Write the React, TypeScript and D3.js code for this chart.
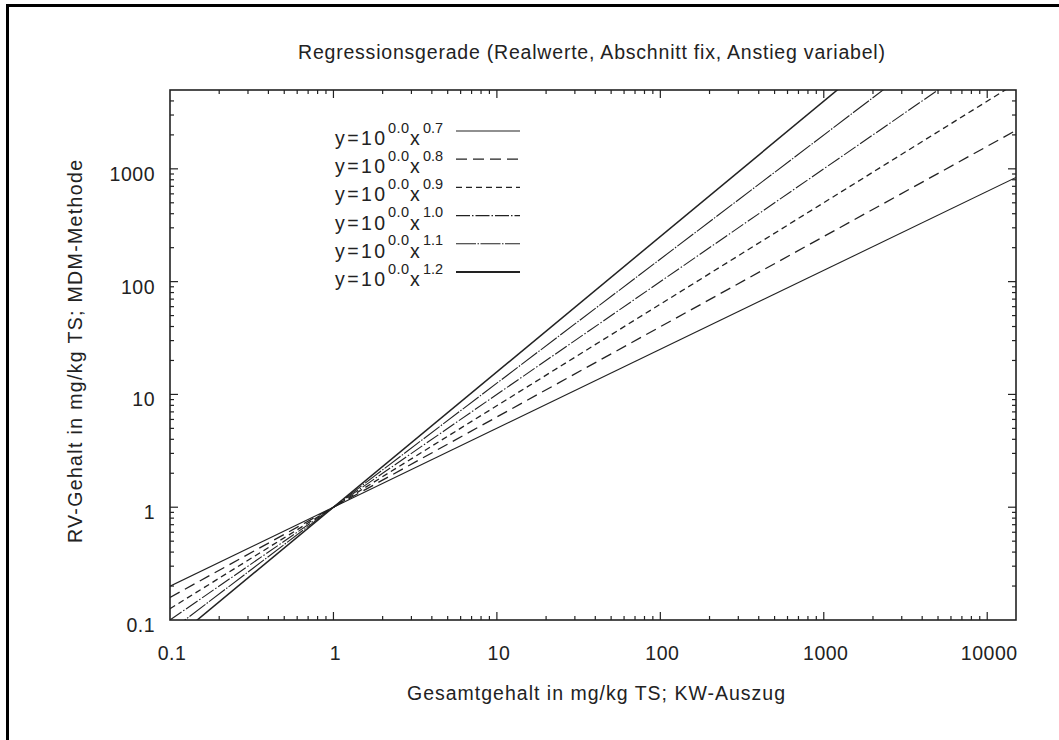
import React from "react";
import * as d3 from "d3";

// Power-law regression lines y = 10^a * x^b drawn on log–log axes
const exponents = [0.7, 0.8, 0.9, 1.0, 1.1, 1.2];
const logIntercepts = [0.0, 0.0, 0.0, 0.0, 0.0, 0.0];
const xDomain = [0.1, 15000];
const yDomain = [0.1, 5000];
const xTickLabels = ["0.1", "1", "10", "100", "1000", "10000"];
const yTickLabels = ["0.1", "1", "10", "100", "1000"];

const title = "Regressionsgerade (Realwerte, Abschnitt fix, Anstieg variabel)";
const xAxisTitle = "Gesamtgehalt in mg/kg TS; KW-Auszug";
const yAxisTitle = "RV-Gehalt in mg/kg TS; MDM-Methode";

const W = 1059;
const H = 740;
const P = { left: 170, right: 1016, top: 90, bottom: 620 };
const FONT = "'Liberation Sans', Arial, Helvetica, sans-serif";
const INK = "#222";
const FS = 19.5;

const lineStyles = [
  { dash: undefined, width: 1.1 },
  { dash: "11,6", width: 1.3 },
  { dash: "6,4", width: 1.3 },
  { dash: "14,2,1.5,2", width: 1.1 },
  { dash: "20,1.5,1.5,1.5", width: 1.1 },
  { dash: undefined, width: 1.5 },
];

export default function App() {
  const x = d3.scaleLog().domain(xDomain).range([P.left, P.right]);
  const y = d3.scaleLog().domain(yDomain).range([P.bottom, P.top]);

  const line = d3
    .line<[number, number]>()
    .x((d) => x(d[0]))
    .y((d) => y(d[1]));

  const isMajor = (v: number) => Math.abs(Math.log10(v) - Math.round(Math.log10(v))) < 1e-9;
  const xTicks = x.ticks().filter((v) => v > xDomain[0] * 1.0001 && v < xDomain[1]);
  const yTicks = y.ticks().filter((v) => v > yDomain[0] * 1.0001 && v < yDomain[1] * 0.9999);

  const majorLen = 8;
  const minorLen = 4;

  const legendX = 335;
  const legendY0 = 131;
  const legendStep = 28.2;

  return (
    <svg
      width={W}
      height={H}
      style={{ position: "absolute", left: 0, top: 0, background: "#fff" }}
      fontFamily={FONT}
    >
      <defs>
        <clipPath id="plot-clip">
          <rect x={P.left} y={P.top} width={P.right - P.left} height={P.bottom - P.top} />
        </clipPath>
      </defs>

      {/* outer frame */}
      <rect x={7.5} y={5.5} width={W + 20} height={H + 20} fill="none" stroke="#000" strokeWidth={3} />

      {/* title */}
      <text
        x={591.5}
        y={59}
        textAnchor="middle"
        fontSize={FS}
        fill={INK}
        textLength={587}
        lengthAdjust="spacing"
      >
        {title}
      </text>

      {/* regression lines */}
      <g clipPath="url(#plot-clip)">
        {exponents.map((b, i) => {
          const a = logIntercepts[i];
          const pts: [number, number][] = xDomain.map((xv) => [xv, Math.pow(10, a) * Math.pow(xv, b)]);
          return (
            <path
              key={i}
              d={line(pts) || ""}
              fill="none"
              stroke={INK}
              strokeWidth={lineStyles[i].width}
              strokeDasharray={lineStyles[i].dash}
            />
          );
        })}
      </g>

      {/* ticks on all four sides, pointing inward */}
      <g stroke={INK} strokeWidth={1.2}>
        {xTicks.map((v, i) => {
          const len = isMajor(v) ? majorLen : minorLen;
          const px = x(v);
          return (
            <g key={"xt" + i}>
              <line x1={px} x2={px} y1={P.bottom} y2={P.bottom - len} />
              <line x1={px} x2={px} y1={P.top} y2={P.top + len} />
            </g>
          );
        })}
        {yTicks.map((v, i) => {
          const len = isMajor(v) ? majorLen : minorLen;
          const py = y(v);
          return (
            <g key={"yt" + i}>
              <line x1={P.left} x2={P.left + len} y1={py} y2={py} />
              <line x1={P.right} x2={P.right - len} y1={py} y2={py} />
            </g>
          );
        })}
      </g>

      {/* plot border */}
      <rect
        x={P.left}
        y={P.top}
        width={P.right - P.left}
        height={P.bottom - P.top}
        fill="none"
        stroke={INK}
        strokeWidth={1.6}
      />

      {/* tick labels */}
      {xTickLabels.map((t) => (
        <text
          key={"xl" + t}
          x={x(+t) + 2}
          y={660}
          textAnchor="middle"
          fontSize={FS}
          letterSpacing={0.5}
          fill={INK}
        >
          {t}
        </text>
      ))}
      {yTickLabels.map((t) => (
        <text
          key={"yl" + t}
          x={155}
          y={y(+t) + 12}
          textAnchor="end"
          fontSize={FS}
          letterSpacing={0.5}
          fill={INK}
        >
          {t}
        </text>
      ))}

      {/* axis titles */}
      <text
        x={596}
        y={700}
        textAnchor="middle"
        fontSize={FS}
        fill={INK}
        textLength={378}
        lengthAdjust="spacing"
      >
        {xAxisTitle}
      </text>
      <text
        transform="translate(82,351.5) rotate(-90)"
        textAnchor="middle"
        fontSize={FS}
        fill={INK}
        textLength={383}
        lengthAdjust="spacing"
      >
        {yAxisTitle}
      </text>

      {/* legend */}
      {exponents.map((b, i) => {
        const ry = legendY0 + i * legendStep;
        return (
          <g key={"lg" + i} fill={INK}>
            <text x={legendX} y={ry + 14} fontSize={FS} textLength={50} lengthAdjust="spacing">
              y=10
            </text>
            <text x={388} y={ry + 1.5} fontSize={14.5} textLength={21} lengthAdjust="spacing">
              {logIntercepts[i].toFixed(1)}
            </text>
            <text x={410} y={ry + 14} fontSize={FS}>
              x
            </text>
            <text x={423} y={ry + 1.5} fontSize={14.5} textLength={20} lengthAdjust="spacing">
              {b.toFixed(1)}
            </text>
            <line
              x1={456}
              x2={520}
              y1={ry}
              y2={ry}
              stroke={INK}
              strokeWidth={i === 5 ? 2 : lineStyles[i].width}
              strokeDasharray={lineStyles[i].dash}
            />
          </g>
        );
      })}
    </svg>
  );
}
